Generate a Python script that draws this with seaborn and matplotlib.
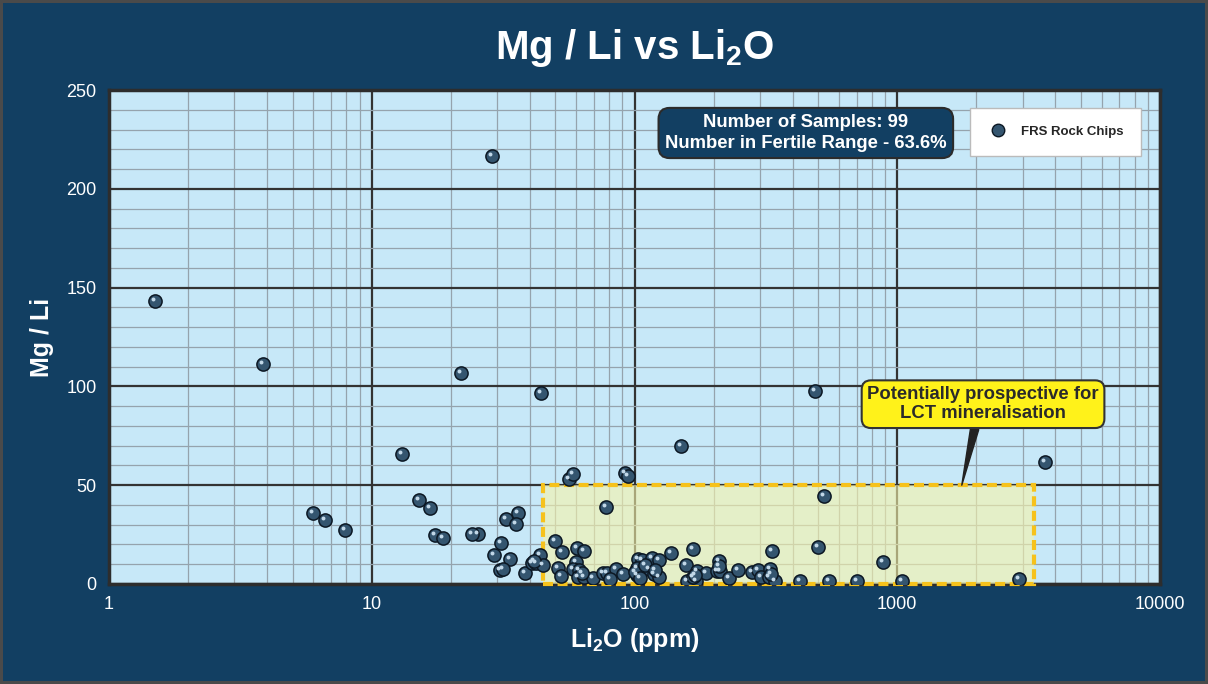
import matplotlib
matplotlib.use("Agg")
import matplotlib.pyplot as plt
import matplotlib.transforms as mtrans
from matplotlib.patches import Rectangle
from matplotlib.lines import Line2D
from matplotlib.ticker import LogLocator, MultipleLocator, NullFormatter
import numpy as np
import pandas as pd
import seaborn as sns

# Li2O (ppm) and Mg/Li, one entry per rock chip
li2o = [1.50, 3.85, 28.7, 21.9, 44.1, 13.0, 5.98, 6.64, 7.91, 15.1,
        16.7, 17.4, 18.7, 25.4, 56.3, 58.2, 92.2, 94.5, 77.7, 32.4,
        36.1, 35.4, 31.0, 29.3, 50.0, 53.1, 60.3, 64.4, 33.5, 30.9,
        38.3, 40.8, 42.2, 43.6, 44.8, 51.3, 52.4, 60.0, 58.2, 61.3,
        61.1, 64.4, 69.3, 76.1, 78.3, 84.8, 80.9, 90.2, 103.4, 107.1,
        102.5, 102.5, 113.5, 116.9, 118.6, 124.2, 124.2, 137.3, 157, 167,
        173.4, 171.8, 158, 167.4, 187, 209, 205.5, 211.5, 228, 247,
        279, 296, 303, 327, 325, 343, 334, 426, 499, 150,
        526, 883, 550, 703, 1042, 2905, 3657, 486,
        100, 110, 120, 63, 105, 170, 210, 330, 41.5, 31.5, 24.0]
mg_li = [143.2, 111.3, 216.6, 106.8, 96.7, 65.8, 35.9, 32.4, 27.3, 42.5,
         38.5, 24.8, 23.3, 25.3, 53.1, 55.7, 56.0, 54.7, 38.8, 33.0,
         35.8, 30.2, 20.7, 14.7, 21.6, 16.2, 18.1, 16.7, 12.7, 6.9,
         5.7, 10.5, 10.5, 14.7, 9.6, 8.2, 4.0, 11.1, 7.4, 7.1,
         3.7, 3.4, 3.0, 5.7, 5.4, 7.6, 2.4, 5.1, 12.5, 12.0,
         8.3, 4.4, 7.8, 13.0, 5.1, 12.0, 3.4, 15.5, 9.6, 17.9,
         6.6, 1.7, 1.7, 3.7, 5.7, 11.5, 6.6, 6.6, 2.9, 7.2,
         6.2, 7.1, 3.4, 7.7, 3.4, 1.5, 16.7, 1.5, 18.6, 70.0,
         44.5, 11.0, 1.4, 1.4, 1.4, 2.7, 61.6, 97.7,
         6.0, 9.5, 7.0, 5.5, 3.0, 4.5, 9.0, 5.0, 11.5, 7.5, 25.5]

x_ticks = [1, 10, 100, 1000, 10000]
x_tick_labels = ["1", "10", "100", "1000", "10000"]
y_ticks = [0, 50, 100, 150, 200, 250]

# fertile range box
fertile_x = [45, 3300]
fertile_y = [0, 50]

n_samples = 99
fertile_pct = 63.6

navy = "#123f62"
ball = "#34556f"

sns.set_style("white")
plt.rcParams["font.family"] = ["Liberation Sans", "DejaVu Sans"]
plt.rcParams["mathtext.fontset"] = "custom"
plt.rcParams["mathtext.rm"] = "Liberation Sans:bold"
plt.rcParams["mathtext.default"] = "rm"

fig = plt.figure(figsize=(12.08, 6.84), dpi=100, facecolor=navy,
                 edgecolor="#4a4a4a", linewidth=4)
ax = fig.add_axes([0.0902, 0.1462, 0.8701, 0.7222])
ax.set_facecolor("#c7e8f8")
ax.set_xscale("log")
ax.set_xlim(1, 10000)
ax.set_ylim(0, 250)

# grid
ax.xaxis.set_minor_locator(LogLocator(base=10, subs=np.arange(2, 10)))
ax.xaxis.set_minor_formatter(NullFormatter())
ax.yaxis.set_minor_locator(MultipleLocator(10))
ax.set_axisbelow(True)
ax.grid(which="major", color="#333333", lw=1.6)
ax.grid(which="minor", color="#95a3ad", lw=0.9)
ax.tick_params(which="both", length=0)

# fertile range
ax.add_patch(Rectangle((fertile_x[0], fertile_y[0]), fertile_x[1] - fertile_x[0],
                       fertile_y[1] - fertile_y[0],
                       facecolor=(248 / 255, 244 / 255, 168 / 255, 0.6),
                       edgecolor="#f6c21c", lw=3, linestyle=(0, (2.4, 1.1)),
                       zorder=3, clip_on=False))

# samples
df = pd.DataFrame({"Li2O": li2o, "MgLi": mg_li})
sns.scatterplot(data=df, x="Li2O", y="MgLi", s=90, color=ball,
                edgecolor="#0c1824", linewidth=1.1, zorder=4, ax=ax)
# little shine on each ball
shine = mtrans.offset_copy(ax.transData, fig=fig, x=-2, y=2, units="dots")
ax.scatter(df["Li2O"], df["MgLi"], s=8, color="#c2d8e8", lw=0,
           transform=shine, zorder=5)

for s in ax.spines.values():
    s.set_color("#2d2d2d")
    s.set_linewidth(2.5)

ax.set_xticks(x_ticks, x_tick_labels)
ax.set_yticks(y_ticks)
ax.tick_params(colors="white", labelsize=13, pad=9)

ax.set_xlabel(r"Li$_{2}$O (ppm)", color="white", fontsize=18,
              fontweight="bold", labelpad=9)
ax.set_ylabel("Mg / Li", color="white", fontsize=18,
              fontweight="bold", labelpad=9)

fig.text(0.525, 0.93, r"Mg / Li vs Li$_{2}$O", ha="center", va="center",
         fontsize=29, fontweight="bold", color="white")

ax.text(0.663, 0.913,
        f"Number of Samples: {n_samples}\nNumber in Fertile Range - {fertile_pct}%",
        transform=ax.transAxes, ha="center", va="center", fontsize=13.3,
        fontweight="bold", color="white", linespacing=1.25, zorder=6,
        bbox=dict(boxstyle="round,pad=0.35,rounding_size=0.6", fc=navy,
                  ec="#2b2b2b", lw=1.5))

ax.annotate("Potentially prospective for\nLCT mineralisation",
            xy=(1760, 50), xycoords="data",
            xytext=(0.8316, 0.364), textcoords="axes fraction",
            ha="center", va="center", fontsize=13.3, fontweight="bold",
            color="#2a2a2a", zorder=6, linespacing=1.2,
            bbox=dict(boxstyle="round,pad=0.3,rounding_size=0.5",
                      fc="#fff21a", ec="#333333", lw=1.5),
            arrowprops=dict(arrowstyle="wedge,tail_width=0.45,shrink_factor=0.5",
                            fc="#222222", ec="#222222", shrinkA=0, shrinkB=0,
                            relpos=(0.47, 0.0)))

handle = Line2D([], [], marker="o", ls="", ms=9, mfc=ball, mec="#0c1824")
leg = ax.legend(handles=[handle], labels=["FRS Rock Chips"], loc="upper right",
                bbox_to_anchor=(0.982, 0.9636), frameon=True, fancybox=False,
                facecolor="white", edgecolor="#bbbbbb", framealpha=1,
                prop=dict(weight="bold", size=9.5), borderpad=1.35,
                handlelength=1.5, handletextpad=1.0, borderaxespad=0)
leg.set_zorder(7)

fig.savefig("out.png", dpi=100, facecolor=fig.get_facecolor(),
            edgecolor=fig.get_edgecolor())
